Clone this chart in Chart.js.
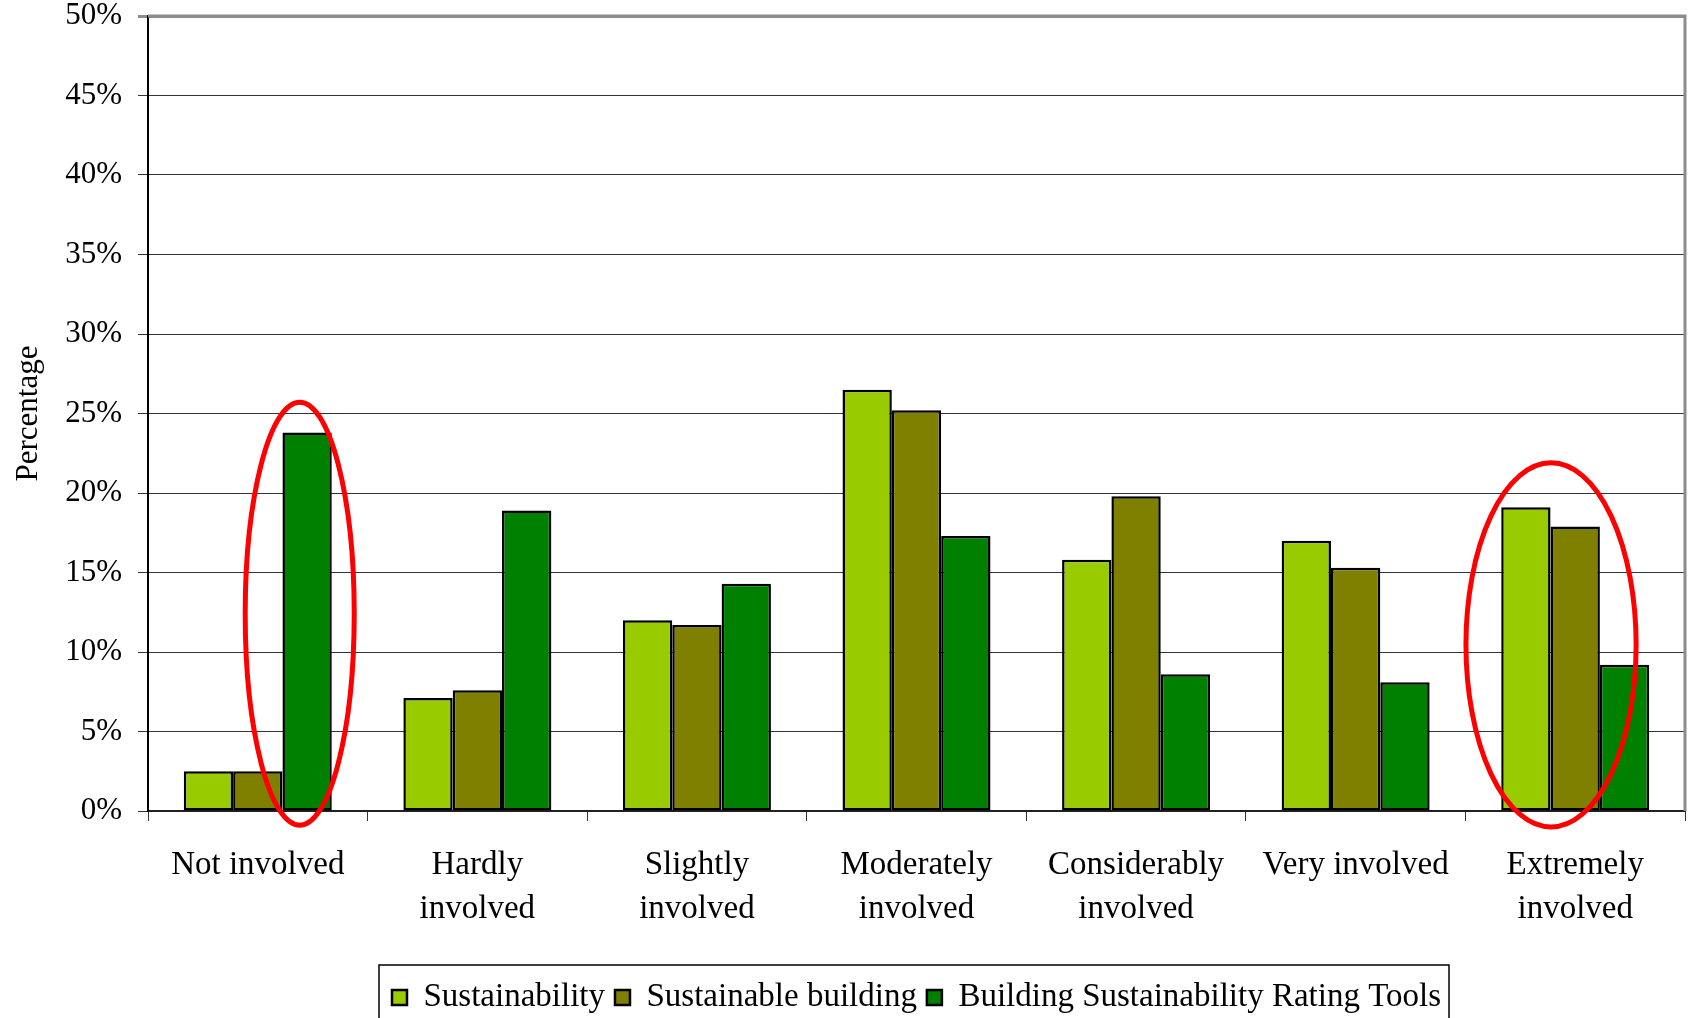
<!DOCTYPE html>
<html>
<head>
<meta charset="utf-8">
<script src="https://cdn.jsdelivr.net/npm/chart.js@4"></script>
<style>
 body{margin:0;background:#fff;}
 canvas{display:block;}
</style>
</head>
<body>
<canvas id="chart" width="1690" height="1018"></canvas>
<script>
const categories=[['Not involved'],['Hardly','involved'],['Slightly','involved'],['Moderately','involved'],['Considerably','involved'],['Very involved'],['Extremely','involved']];
const sustainability=[2.5,7.1,12.0,26.5,15.8,17.0,19.1];
const sustainableBuilding=[2.5,7.6,11.7,25.2,19.8,15.3,17.9];
const ratingTools=[23.8,18.9,14.3,17.3,8.6,8.1,9.2];
const seriesNames=['Sustainability','Sustainable building','Building Sustainability Rating Tools'];
const seriesColors=['#99CC00','#808000','#008000'];

// red ellipses round the highlighted groups (category, value range)
const highlightCats=[0,6];
const highlightTop=[25.7,21.9];
const highlightBottom=[-0.9,-1.0];

const FONT='"Liberation Serif","Times New Roman",serif';
const CAT_PCT=0.674;

const ellipses={
 id:'ellipses',
 afterDatasetsDraw(chart){
  const {ctx,scales:{x,y}}=chart;
  const barW=x.width/categories.length*CAT_PCT/3;
  const shift=[0.85,-0.49],widthBars=[2.21,3.45];
  ctx.save();
  ctx.strokeStyle='#FF0000';
  ctx.lineWidth=5;
  highlightCats.forEach((c,i)=>{
   const cx=x.getPixelForValue(c)+shift[i]*barW;
   const t=y.getPixelForValue(highlightTop[i]),b=y.getPixelForValue(highlightBottom[i]);
   ctx.beginPath();
   ctx.ellipse(cx,(t+b)/2,widthBars[i]*barW/2,(b-t)/2,0,0,Math.PI*2);
   ctx.stroke();
  });
  ctx.restore();
 }
};

const frame={
 id:'frame',
 beforeDatasetsDraw(chart){
  const {ctx,chartArea:a}=chart;
  ctx.save();
  ctx.strokeStyle='#8c8c8c';
  ctx.lineWidth=3;
  ctx.beginPath();
  ctx.moveTo(a.left,a.top);ctx.lineTo(a.right,a.top);ctx.lineTo(a.right,a.bottom);
  ctx.stroke();
  ctx.restore();
 },
 afterDraw(chart){
  const lg=chart.legend;
  if(!lg||!lg.legendHitBoxes.length) return;
  const hb=lg.legendHitBoxes;
  const l=hb[0].left-13,r=hb[hb.length-1].left+hb[hb.length-1].width+8;
  const ctx=chart.ctx;
  ctx.save();
  ctx.strokeStyle='#000';
  ctx.lineWidth=1.5;
  ctx.strokeRect(l,lg.top-6,r-l,200);
  ctx.restore();
 }
};

new Chart(document.getElementById('chart'),{
 type:'bar',
 data:{
  labels:categories,
  datasets:[sustainability,sustainableBuilding,ratingTools].map((d,i)=>({
   label:seriesNames[i],data:d,backgroundColor:seriesColors[i],
   borderColor:'#000',borderWidth:2.5,borderSkipped:false,
   categoryPercentage:CAT_PCT,barPercentage:1
  }))
 },
 options:{
  responsive:false,animation:false,
  layout:{padding:{top:16,right:5,bottom:-6,left:0}},
  plugins:{
   tooltip:{enabled:false},
   legend:{
    position:'bottom',fullSize:false,
    labels:{font:{family:FONT,size:33},color:'#000',boxWidth:15,boxHeight:15,padding:10}
   }
  },
  scales:{
   x:{
    afterFit:s=>{s.height=160;},
    grid:{offset:true,drawOnChartArea:false,tickLength:10,color:'#333'},
    border:{color:'#222',width:2},
    ticks:{font:{family:FONT,size:33,lineHeight:1.32},color:'#000',padding:23,maxRotation:0,autoSkip:false}
   },
   y:{
    min:0,max:50,
    afterFit:s=>{s.width=148;s.paddingTop=0;},
    grid:{color:c=>c.tick&&c.tick.value===50?'#8c8c8c':'#333',lineWidth:c=>c.tick&&c.tick.value===50?3:1,tickLength:10},
    border:{color:'#000',width:2},
    ticks:{stepSize:5,callback:v=>v+'%',font:{family:FONT,size:31},color:'#000',padding:16},
    title:{display:true,text:'Percentage',font:{family:FONT,size:31},color:'#000',padding:{top:10,bottom:0}}
   }
  }
 },
 plugins:[frame,ellipses]
});
</script>
</body>
</html>
